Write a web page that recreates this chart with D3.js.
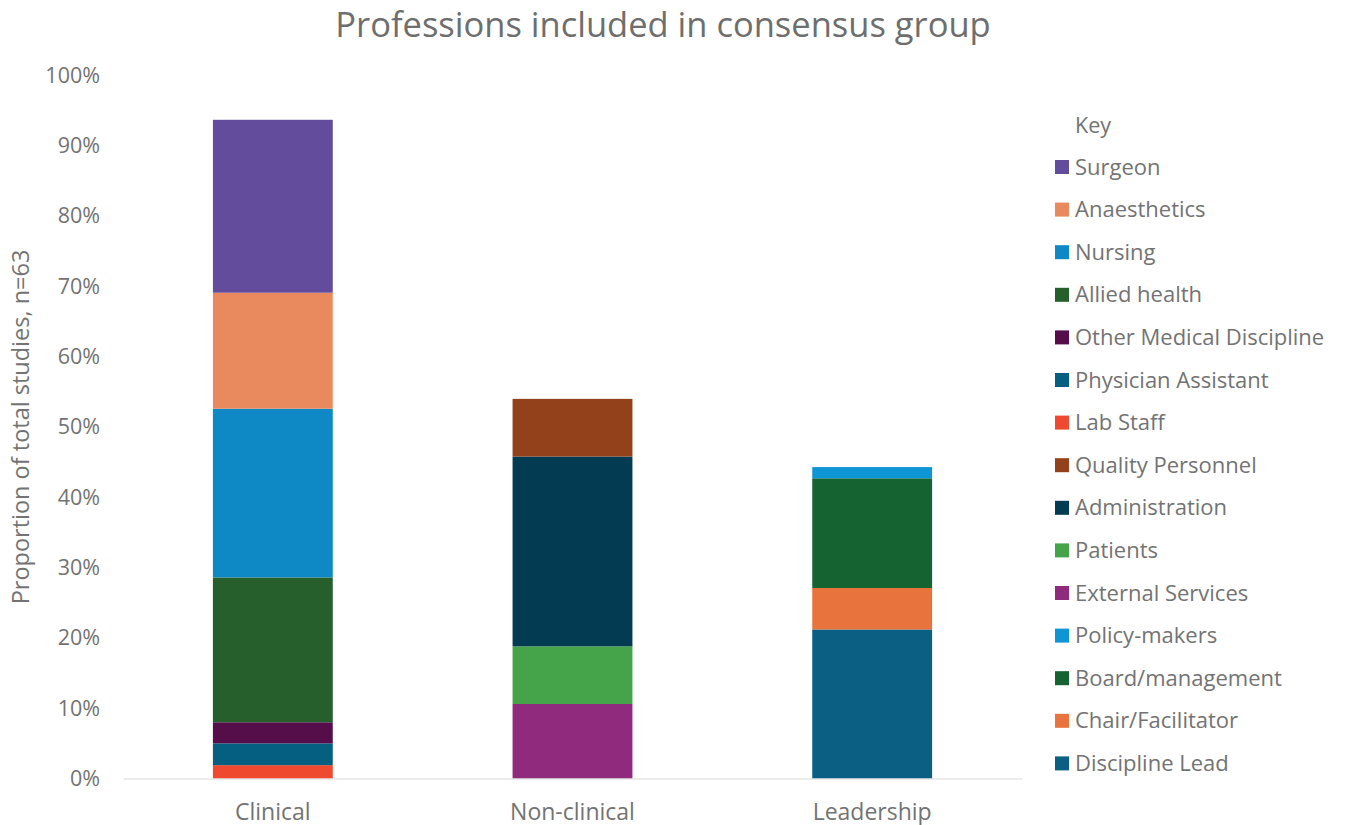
<!DOCTYPE html>
<html>
<head>
<meta charset="utf-8">
<script src="https://cdn.jsdelivr.net/npm/d3@7"></script>
<style>
  html, body { margin: 0; padding: 0; background: #fff; }
  svg { display: block; font-family: "Open Sans", "Liberation Sans", sans-serif; }
</style>
</head>
<body>
<svg id="chart" width="1346" height="825"></svg>
<script>
// ---- Data ----
const categories = ["Clinical", "Non-clinical", "Leadership"];

// Series in stacking order (bottom to top); legend lists them in reverse
const seriesNames = [
  "Discipline Lead", "Chair/Facilitator", "Board/management", "Policy-makers",
  "External Services", "Patients", "Administration", "Quality Personnel",
  "Lab Staff", "Physician Assistant", "Other Medical Discipline", "Allied health",
  "Nursing", "Anaesthetics", "Surgeon"
];
// values (%) per category: [Clinical, Non-clinical, Leadership]
const disciplineLead   = [0, 0, 21.2];
const chairFacilitator = [0, 0, 5.9];
const boardManagement  = [0, 0, 15.6];
const policyMakers     = [0, 0, 1.6];
const externalServices = [0, 10.6, 0];
const patients         = [0, 8.2, 0];
const administration   = [0, 27.0, 0];
const qualityPersonnel = [0, 8.2, 0];
const labStaff         = [1.9, 0, 0];
const physicianAsst    = [3.1, 0, 0];
const otherMedical     = [3.0, 0, 0];
const alliedHealth     = [20.6, 0, 0];
const nursing          = [24.0, 0, 0];
const anaesthetics     = [16.5, 0, 0];
const surgeon          = [24.6, 0, 0];

const seriesValues = [
  disciplineLead, chairFacilitator, boardManagement, policyMakers,
  externalServices, patients, administration, qualityPersonnel,
  labStaff, physicianAsst, otherMedical, alliedHealth,
  nursing, anaesthetics, surgeon
];
const seriesColors = [
  "#0A5F82", "#E8733C", "#156330", "#0E95D6",
  "#902A7C", "#45A34A", "#033B52", "#92411A",
  "#EF4A2F", "#045F80", "#550E4A", "#265F2B",
  "#0E89C5", "#E88A5E", "#634C9C"
];
const yTicks = [0, 10, 20, 30, 40, 50, 60, 70, 80, 90, 100];

// ---- Build table ----
const table = categories.map((c, i) => {
  const row = { category: c };
  seriesNames.forEach((s, j) => { row[s] = seriesValues[j][i]; });
  return row;
});

const svg = d3.select("#chart");
const margin = { left: 123, right: 1022, top: 75.5, bottom: 778.5 };

const x = d3.scaleBand()
  .domain(categories)
  .range([margin.left, margin.right])
  .paddingInner(0.6)
  .paddingOuter(0.3);

const y = d3.scaleLinear().domain([0, 100]).range([margin.bottom, margin.top]);

const color = d3.scaleOrdinal().domain(seriesNames).range(seriesColors);

const stacked = d3.stack().keys(seriesNames)(table);

const textColor = "#737373";

// Title
svg.append("text")
  .attr("x", 663).attr("y", 37)
  .attr("text-anchor", "middle")
  .attr("font-size", 34.5)
  .attr("fill", "#6e6e6e")
  .text("Professions included in consensus group");

// Y axis (labels only)
const yAxis = d3.axisLeft(y)
  .tickValues(yTicks)
  .tickFormat(d => d + "%")
  .tickSize(0)
  .tickPadding(0);
const yg = svg.append("g")
  .attr("transform", `translate(${100},0)`)
  .call(yAxis);
yg.select(".domain").remove();
yg.selectAll("text")
  .attr("font-size", 21.5)
  .attr("fill", textColor)
  .attr("font-family", "'Open Sans', sans-serif");

// Y axis title
svg.append("text")
  .attr("transform", `translate(29, 427) rotate(-90)`)
  .attr("text-anchor", "middle")
  .attr("font-size", 23.5)
  .attr("fill", textColor)
  .text("Proportion of total studies, n=63");

// Bars
svg.append("g")
  .selectAll("g")
  .data(stacked)
  .join("g")
  .attr("fill", d => color(d.key))
  .selectAll("rect")
  .data(d => d.filter(p => p[1] - p[0] > 0))
  .join("rect")
  .attr("x", d => x(d.data.category))
  .attr("width", x.bandwidth())
  .attr("y", d => y(d[1]))
  .attr("height", d => y(d[0]) - y(d[1]));

// X axis
const xAxis = d3.axisBottom(x).tickSize(0).tickPadding(0);
const xg = svg.append("g")
  .attr("transform", `translate(0,${margin.bottom})`)
  .call(xAxis);
xg.select(".domain").attr("stroke", "#d9d9d9").attr("stroke-width", 1.2);
xg.selectAll("text")
  .attr("dy", 0)
  .attr("y", 41)
  .attr("font-size", 23)
  .attr("fill", textColor)
  .attr("font-family", "'Open Sans', sans-serif");

// Legend
const legend = svg.append("g");
legend.append("text")
  .attr("x", 1075).attr("y", 133)
  .attr("font-size", 21.5)
  .attr("fill", textColor)
  .text("Key");
const legendItems = seriesNames.slice().reverse();
const li = legend.selectAll("g.item")
  .data(legendItems)
  .join("g")
  .attr("class", "item")
  .attr("transform", (d, i) => `translate(1055, ${167 + i * 42.6})`);
li.append("rect")
  .attr("x", 0).attr("y", -7)
  .attr("width", 14).attr("height", 14)
  .attr("fill", d => color(d));
li.append("text")
  .attr("x", 20).attr("y", 7.5)
  .attr("font-size", 22)
  .attr("fill", textColor)
  .text(d => d);
</script>
</body>
</html>
